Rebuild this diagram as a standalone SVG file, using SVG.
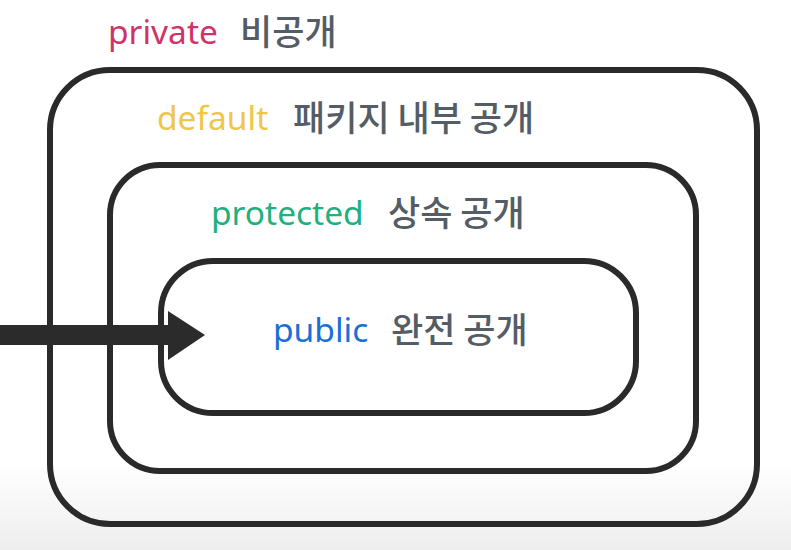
<svg xmlns="http://www.w3.org/2000/svg" width="791" height="550" viewBox="0 0 791 550">
<defs>
<linearGradient id="bg" x1="0" y1="0" x2="0" y2="1">
<stop offset="0.84" stop-color="#ffffff"/>
<stop offset="1" stop-color="#eeeeee"/>
</linearGradient>
<style>
.box{fill:none;stroke:#2a2a2a;stroke-width:6}
.kw{font-family:"Noto Sans","Noto Sans CJK KR",sans-serif;font-size:33.5px}
.ko{font-family:"Noto Sans CJK KR",sans-serif;font-size:35px;font-weight:500;fill:#545d66}
</style>
</defs>
<rect width="791" height="550" fill="url(#bg)"/>
<g id="private">
<rect class="box" x="50" y="70" width="707" height="454" rx="60" ry="60"/>
<text class="kw" x="108" y="44" fill="#d0336a">private</text>
<text class="ko" x="240" y="45">비공개</text>
</g>
<g id="default">
<rect class="box" x="110" y="165" width="586" height="306" rx="50" ry="50"/>
<text class="kw" x="157" y="130" fill="#f0c64a">default</text>
<text class="ko" x="293" y="131">패키지 내부 공개</text>
</g>
<g id="protected">
<rect class="box" x="161" y="261" width="475" height="152" rx="52" ry="52"/>
<text class="kw" x="211" y="225" fill="#1fb07f">protected</text>
<text class="ko" x="388" y="226">상속 공개</text>
</g>
<g id="public">
<text class="kw" x="273" y="342" fill="#1a6fd6">public</text>
<text class="ko" x="391" y="343">완전 공개</text>
</g>
<g id="connectors">
<rect x="0" y="325" width="172" height="20" fill="#2b2b2b"/>
<polygon points="168,311 205,335 168,360" fill="#2b2b2b"/>
</g>
</svg>
